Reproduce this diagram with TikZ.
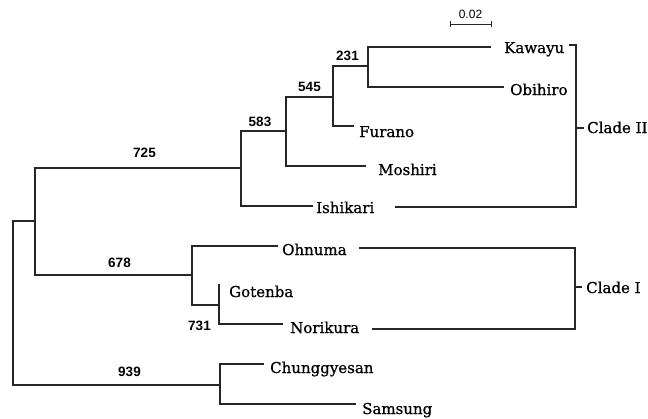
\documentclass[tikz,border=0pt]{standalone}
\usepackage{fontspec}
\newfontfamily\taxfont[FakeBold=0.8]{DejaVu Serif}
\newfontfamily\numfont{Liberation Sans}
\tikzset{
  br/.style={line width=1.1pt, draw=black!85, line cap=rect},
  taxon/.style={anchor=base west, inner sep=0pt, font=\taxfont\fontsize{15}{18}\selectfont},
  boot/.style={anchor=center, inner sep=0pt, font=\numfont\bfseries\fontsize{13.5}{16}\selectfont},
  scalelab/.style={anchor=center, inner sep=0pt, font=\numfont\fontsize{12}{14}\selectfont}
}
\begin{document}
\begin{tikzpicture}[x=1pt,y=-1pt]
\useasboundingbox (0,0) rectangle (648,418);
% tree coordinates
\coordinate (rT) at (13,221); \coordinate (rB) at (13,385);
\coordinate (aR) at (35,221); \coordinate (aT) at (35,168); \coordinate (aB) at (35,275);
\coordinate (bM) at (241,168); \coordinate (bT) at (241,131); \coordinate (bB) at (241,206);
\coordinate (ishE) at (312,206);
\coordinate (cM) at (286,131); \coordinate (cT) at (286,97); \coordinate (cB) at (286,166);
\coordinate (mosE) at (365,166);
\coordinate (dM) at (333,97); \coordinate (dT) at (333,66); \coordinate (dB) at (333,126);
\coordinate (furE) at (353,126);
\coordinate (eM) at (368,66); \coordinate (eT) at (368,47); \coordinate (eB) at (368,87);
\coordinate (kawE) at (490,47); \coordinate (obiE) at (503,87);
\coordinate (fM) at (192,275); \coordinate (fT) at (192,246); \coordinate (fB) at (192,305);
\coordinate (ohnE) at (277,246);
\coordinate (gM) at (219,305); \coordinate (gT) at (219,285); \coordinate (gB) at (219,324);
\coordinate (norE) at (282,324);
\coordinate (hM) at (220,385); \coordinate (hT) at (220,364); \coordinate (hB) at (220,404);
\coordinate (chuE) at (263,364); \coordinate (samE) at (355,404);
% tree lines
\draw[br] (rT) -- (rB);
\draw[br] (rT) -- (aR);
\draw[br] (aT) -- (aB);
\draw[br] (aT) -- (bM);
\draw[br] (bT) -- (bB);
\draw[br] (bB) -- (ishE);
\draw[br] (bT) -- (cM);
\draw[br] (cT) -- (cB);
\draw[br] (cB) -- (mosE);
\draw[br] (cT) -- (dM);
\draw[br] (dT) -- (dB);
\draw[br] (dB) -- (furE);
\draw[br] (dT) -- (eM);
\draw[br] (eT) -- (eB);
\draw[br] (eT) -- (kawE);
\draw[br] (eB) -- (obiE);
\draw[br] (aB) -- (fM);
\draw[br] (fT) -- (fB);
\draw[br] (fT) -- (ohnE);
\draw[br] (fB) -- (gM);
\draw[br] (gT) -- (gB);
\draw[br] (gB) -- (norE);
\draw[br] (rB) -- (hM);
\draw[br] (hT) -- (hB);
\draw[br] (hT) -- (chuE);
\draw[br] (hB) -- (samE);
% taxa
\node[taxon] (kaw) at (504,53) {Kawayu};
\node[taxon] (obi) at (510,95) {Obihiro};
\node[taxon] (fur) at (359,137) {Furano};
\node[taxon] (mos) at (378,175) {Moshiri};
\node[taxon] (ish) at (316,213) {Ishikari};
\node[taxon] (ohn) at (282,255) {Ohnuma};
\node[taxon] (got) at (229,297) {Gotenba};
\node[taxon] (nor) at (290,333) {Norikura};
\node[taxon] (chu) at (270,373) {Chunggyesan};
\node[taxon] (sam) at (362,414) {Samsung};
\node[taxon] (c2) at (587,133) {Clade II};
\node[taxon] (c1) at (586,293) {Clade I};
% bootstrap values
\node[boot] (b231) at (347.5,56) {231};
\node[boot] (b545) at (309.5,87) {545};
\node[boot] (b583) at (260,122) {583};
\node[boot] (b725) at (144.5,153) {725};
\node[boot] (b678) at (119.5,263) {678};
\node[boot] (b731) at (199.5,325.5) {731};
\node[boot] (b939) at (129.5,372) {939};
% clade brackets
\coordinate (k2a) at (570,45); \coordinate (k2b) at (576,45);
\coordinate (k2c) at (576,207); \coordinate (i2s) at (396,207);
\coordinate (k2m) at (576,128); \coordinate (k2t) at (583,128);
\draw[br] (k2a) -- (k2b) -- (k2c) -- (i2s);
\draw[br] (k2m) -- (k2t);
\coordinate (o1s) at (360,248); \coordinate (k1a) at (575,248);
\coordinate (k1b) at (575,329); \coordinate (n1s) at (373,329);
\coordinate (k1m) at (575,287); \coordinate (k1t) at (581,287);
\draw[br] (o1s) -- (k1a) -- (k1b) -- (n1s);
\draw[br] (k1m) -- (k1t);
% scale bar
\coordinate (sL) at (450,24); \coordinate (sR) at (491,24);
\draw[line width=0.9pt, draw=black!85] (sL) -- (sR);
\draw[line width=0.9pt, draw=black!85] ([yshift=-3pt]sL) -- ([yshift=3pt]sL);
\draw[line width=0.9pt, draw=black!85] ([yshift=-3pt]sR) -- ([yshift=3pt]sR);
\node[scalelab] (sl) at (470.5,14) {0.02};
\end{tikzpicture}
\end{document}
